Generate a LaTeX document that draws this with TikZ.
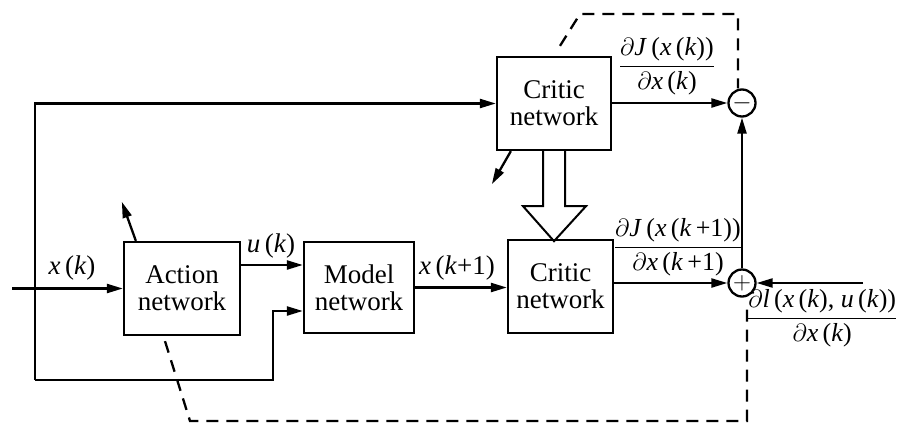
\documentclass[tikz,border=0pt]{standalone}
\usepackage{fontspec}
\setmainfont{Liberation Serif}
\newfontfamily\tnr{Liberation Serif}
\usetikzlibrary{arrows.meta,calc}
\newcommand{\iv}[1]{\textit{#1}}
\newcommand{\pd}{$\partial$}
\newcommand{\fr}[2]{$\displaystyle\frac{\mbox{#1}}{\mbox{#2}}$}
\begin{document}
\begin{tikzpicture}[x=1pt,y=-1pt,
  line width=2.3pt,
  every node/.style={font=\tnr\fontsize{27}{29}\selectfont},
  block/.style={draw,align=center,inner sep=0pt},
  sumnode/.style={draw,circle,minimum size=27pt,inner sep=0pt,line width=2.3pt},
  arr/.style={-{Triangle[length=16pt,width=9pt]}},
  lbl/.style={inner sep=1pt,font=\tnr\fontsize{27}{29}\selectfont},
  flbl/.style={inner sep=1pt,font=\tnr\fontsize{26}{28}\selectfont},
  weight/.style={dash pattern=on 12pt off 8pt}]
\useasboundingbox (0,0) rectangle (904,426);

% blocks
\node[block,minimum width=114pt,minimum height=93pt] (critA) at (554,103.5) {Critic\\[-2pt]network};
\node[block,minimum width=105pt,minimum height=93pt] (critB) at (560.5,286.5) {Critic\\[-2pt]network};
\node[block,minimum width=116pt,minimum height=93pt] (action) at (182,288.5) {Action\\[-2pt]network};
\node[block,minimum width=110pt,minimum height=91pt] (model) at (359,287.5) {Model\\[-2pt]network};
\node[sumnode] (minus) at (742,103) {\fontsize{26}{26}\selectfont$-$};
\node[sumnode] (plus) at (742,283) {\fontsize{24}{24}\selectfont$+$};

% signal coordinates
\coordinate (in) at (12,288.5);
\coordinate (tl) at (35,103.5);
\coordinate (bl) at (35,380);
\coordinate (br) at (273,380);
\coordinate (rin) at (863,283);

% forward paths
\draw[arr] (in) -- (action.west);
\draw[arr] (bl) -- (tl) -- (critA.west);
\draw[arr] (bl) -- (br) |- ([yshift=-23.5pt]model.west);
\draw[arr] ([yshift=23.5pt]action.east) -- ([yshift=23.5pt]action.east -| model.west);
\draw[arr] (model.east) -- (model.east -| critB.west);
\draw[arr] (critA.east |- minus.west) -- (minus.west);
\draw[arr] (critB.east |- plus.west) -- (plus.west);
\draw[arr] (plus.north) -- (minus.south);
\draw[arr] (rin) -- (plus.east);

% weight copy from the upper critic to the lower one
\draw[line width=2pt] (critA.south) ++(-11,0) -- ++(0,55) -- ++(-20,0)
  -- ++(31,35) -- ++(32,-35) -- ++(-21,0) -- ++(0,-55);

% weight-update arrows
\draw[arr] ([xshift=15pt]critA.south west) -- ++(-19,33);
\draw[arr] ([xshift=13pt]action.north west) -- ++(-14,-39);

% error feedback (dashed)
\draw[weight] ([xshift=6pt,yshift=10pt]critA.north) -- (580,14) -| ([xshift=-4pt]minus.north);
\draw[weight] ([xshift=-17pt,yshift=-5pt]action.south) -- (190,421) -| ([xshift=5pt,yshift=-12pt]plus.south);

% signal labels
\node[lbl] (lxk) at (72,268) {\iv{x}\,(\iv{k})};
\node[lbl] (luk) at (271,246) {\iv{u}\,(\iv{k})};
\node[lbl] (lxk1) at (457,268) {\iv{x}\,(\iv{k}+1)};
\node[flbl] (fA) at (667,66) {\fr{\pd\iv{J}\,(\iv{x}\,(\iv{k}))}{\pd\iv{x}\,(\iv{k})}};
\node[flbl] (fB) at (678,247) {\fr{\pd\iv{J}\,(\iv{x}\,(\iv{k}\,+1))}{\pd\iv{x}\,(\iv{k}\,+1)}};
\node[flbl,anchor=west] (fC) at (745,318) {\fr{\pd\iv{l}\,(\iv{x}\,(\iv{k}), \iv{u}\,(\iv{k}))}{\pd\iv{x}\,(\iv{k})}};
\end{tikzpicture}
\end{document}
